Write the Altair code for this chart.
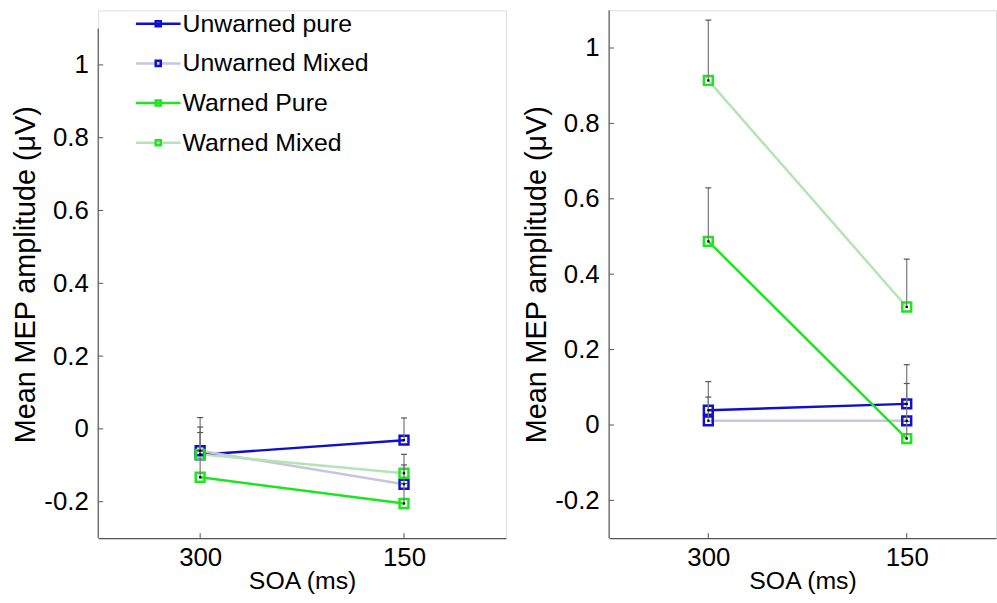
import altair as alt
import pandas as pd

# ---------------- data ----------------
soa_labels = ["300", "150"]
soa_pos = [1, 2]
series = ["Unwarned pure", "Unwarned Mixed", "Warned Pure", "Warned Mixed"]
line_colors = ["#1010c8", "#c6c6dc", "#1ee61e", "#b4e4b4"]
marker_colors = ["#1010d2", "#1010d2", "#1ee61e", "#1ee61e"]

# left panel
left_means = {
    "Unwarned pure": [-0.071, -0.031],
    "Unwarned Mixed": [-0.060, -0.152],
    "Warned Pure": [-0.133, -0.205],
    "Warned Mixed": [-0.070, -0.122],
}
left_tops = {
    "Unwarned pure": [0.005, 0.030],
    "Unwarned Mixed": [0.031, -0.070],
    "Warned Pure": [-0.060, -0.150],
    "Warned Mixed": [-0.010, -0.099],
}
# right panel
right_means = {
    "Unwarned pure": [0.039, 0.056],
    "Unwarned Mixed": [0.011, 0.011],
    "Warned Pure": [0.487, -0.036],
    "Warned Mixed": [0.914, 0.313],
}
right_tops = {
    "Unwarned pure": [0.115, 0.160],
    "Unwarned Mixed": [0.074, 0.110],
    "Warned Pure": [0.629, 0.010],
    "Warned Mixed": [1.074, 0.440],
}

y_ticks = [-0.2, 0, 0.2, 0.4, 0.6, 0.8, 1.0]
y_axis_extent = [-0.3, 1.1]

FONT = "Liberation Sans"
H = 532
# marker legend uses a distinct (invisible-label) domain so it is not merged with the line legend
series_m = [s + " " for s in series]


def make_df(means, tops):
    rows = []
    for s, sm in zip(series, series_m):
        for i, p in enumerate(soa_pos):
            rows.append({"series": s, "series_m": sm, "x": p,
                         "mean": means[s][i], "top": tops[s][i]})
    return pd.DataFrame(rows)


x_label_expr = " : ".join(
    [f"datum.value == {p} ? '{l}'" for p, l in zip(soa_pos, soa_labels)]
) + " : ''"
y_label_expr = "(datum.value < 0 ? '-' : '') + format(abs(datum.value), '~g')"


def panel(means, tops, ydomain, xdomain, width):
    df = make_df(means, tops)
    xs = alt.Scale(domain=xdomain, nice=False, zero=False)
    ys = alt.Scale(domain=ydomain, nice=False, zero=False)
    x_axis = alt.Axis(values=soa_pos, labelExpr=x_label_expr, ticks=False, grid=False,
                      domain=True, domainColor="#555555", domainWidth=1.2,
                      title="SOA (ms)", labelFontSize=26, titleFontSize=25,
                      labelPadding=7, titlePadding=-2, labelColor="black", titleColor="black",
                      titleFontWeight="normal", labelFont=FONT, titleFont=FONT)
    y_axis = alt.Axis(values=y_ticks, labelExpr=y_label_expr, ticks=False, grid=False,
                      domain=False, title="Mean MEP amplitude (μV)", labelFontSize=26,
                      titleFontSize=29, labelPadding=10, titlePadding=3, labelColor="black",
                      titleColor="black", titleFontWeight="normal", labelFont=FONT, titleFont=FONT)
    X = lambda f="x": alt.X(f"{f}:Q", scale=xs, axis=x_axis)
    Y = lambda f: alt.Y(f"{f}:Q", scale=ys, axis=y_axis)

    legend_common = dict(orient="none", legendX=44, legendY=-3, title=None,
                         symbolSize=900, symbolStrokeWidth=2.5, labelFontSize=25,
                         labelFont=FONT, labelOffset=8, rowPadding=10, padding=0,
                         labelLimit=500)
    stroke_legend = alt.Legend(symbolType="M-1.5,0H1.5", labelColor="black", **legend_common)
    color_legend = alt.Legend(symbolType="M-0.17,-0.17H0.17V0.17H-0.17Z", labelOpacity=0,
                              **legend_common)

    base = alt.Chart(df)
    lines = base.mark_line(strokeWidth=2.5).encode(
        x=X(), y=Y("mean"),
        stroke=alt.Stroke("series:N", scale=alt.Scale(domain=series, range=line_colors),
                          legend=stroke_legend)
    )
    markers = base.mark_point(shape="square", filled=False, size=80, strokeWidth=2.5,
                              opacity=1).encode(
        x=X(), y=Y("mean"),
        color=alt.Color("series_m:N", scale=alt.Scale(domain=series_m, range=marker_colors),
                        legend=color_legend)
    )
    err = base.mark_rule(color="#777777", strokeWidth=1.2).encode(
        x=X(), y=Y("mean"), y2="top:Q"
    )
    caps = base.mark_rule(color="#555555", strokeWidth=1.2, xOffset=-3, x2Offset=3).encode(
        x=X(), x2="x:Q", y=Y("top")
    )
    dots = base.mark_point(shape="square", filled=True, size=5, color="black",
                           opacity=1).encode(x=X(), y=Y("mean"))

    axis_df = pd.DataFrame({"y0": [y_axis_extent[0]], "y1": [y_axis_extent[1]]})
    yline = alt.Chart(axis_df).mark_rule(color="#555555", strokeWidth=1.2).encode(
        x=alt.value(0), y=Y("y0"), y2="y1:Q"
    )
    ytick_df = pd.DataFrame({"v": y_ticks})
    yt = alt.Chart(ytick_df).mark_rule(color="#555555", strokeWidth=1).encode(
        x=alt.value(0), x2=alt.value(5), y=Y("v")
    )
    xtick_df = pd.DataFrame({"p": soa_pos})
    xt = alt.Chart(xtick_df).mark_rule(color="#555555", strokeWidth=1).encode(
        x=X("p"), y=alt.value(H), y2=alt.value(H - 5)
    )
    return alt.layer(yline, yt, xt, lines, markers, err, caps, dots).properties(
        width=width, height=H
    )


left = panel(left_means, left_tops, [-0.3, 1.15], [0.5, 2.5], 411)
right = panel(right_means, right_tops, [-0.3, 1.1], [0.5, 2.45], 390)

chart = alt.hconcat(left, right, spacing=15).properties(
    padding={"left": 11, "top": 5, "right": 0, "bottom": 0}
).configure_view(stroke=None).configure(font=FONT, background="white")

chart.save("out.html", embed_options={"renderer": "svg", "actions": False})
